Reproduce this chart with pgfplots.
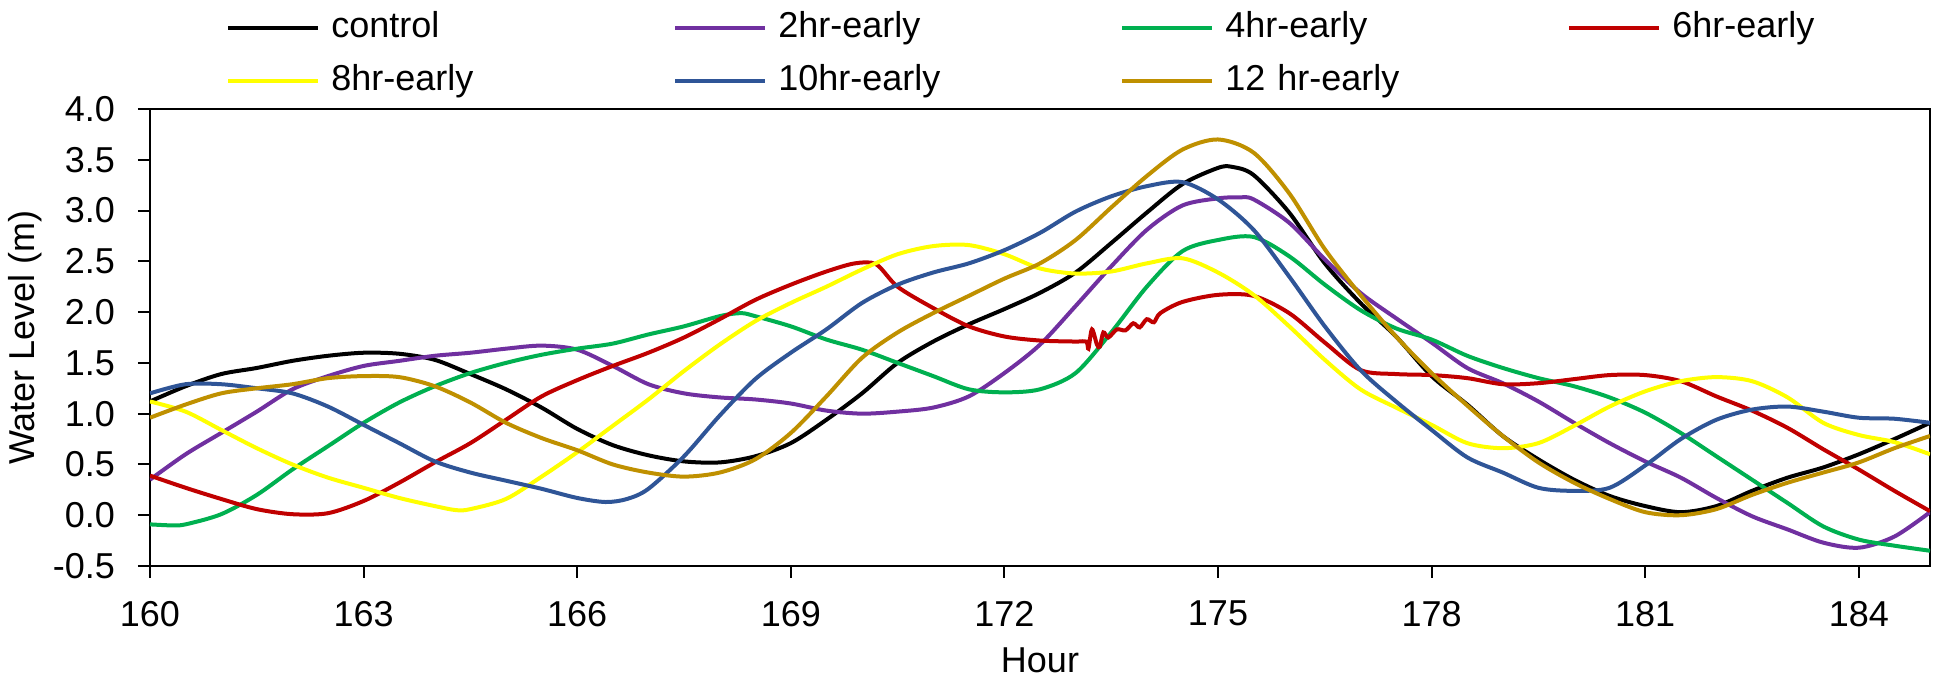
\documentclass[border=0pt]{standalone}
\usepackage{fontspec}
\setmainfont{Liberation Sans}
\usepackage{pgfplots}
\pgfplotsset{compat=1.18}
\definecolor{cPurple}{RGB}{112,48,160}
\definecolor{cGreen}{RGB}{0,176,80}
\definecolor{cRed}{RGB}{192,0,0}
\definecolor{cYellow}{RGB}{255,255,0}
\definecolor{cBlue}{RGB}{47,85,151}
\definecolor{cGold}{RGB}{191,144,0}
\newcommand{\fs}{\fontsize{18}{21}\selectfont}
\begin{document}
\begin{tikzpicture}
\begin{axis}[name=ax,
  scale only axis, width=890pt, height=228.5pt,
  xmin=160, xmax=185, ymin=-0.5, ymax=4,
  xtick={160,163,...,184}, ytick={-0.5,0,0.5,1,1.5,2,2.5,3,3.5,4},
  tick pos=left, tick align=outside, major tick length=6pt,
  axis line style={line width=1pt}, every tick/.style={black, line width=1pt},
  /pgf/number format/assume math mode=true,
  tick label style={font=\fs},
  xticklabel style={yshift=-8pt},
  yticklabel style={xshift=-8pt, /pgf/number format/.cd, fixed, fixed zerofill, precision=1},
  label style={font=\fs},
  xlabel={Hour}, ylabel={Water Level (m)},
  xlabel style={at={(axis description cs:0.5,-0.2057)}, anchor=center},
  ylabel style={at={(axis description cs:-0.0702,0.5)}, anchor=center},
  legend columns=4,
  legend style={at={(axis description cs:0.0427,1.2144)}, anchor=north west,
    draw=none, fill=none, inner sep=0pt, column sep=0pt, row sep=9.5pt, font=\fs,
    nodes={text width=165.5pt, inner xsep=5.5pt, inner ysep=0pt, text height=13pt, text depth=4pt, align=left}},
  legend image code/.code={\draw[#1] (0pt,0pt) -- (45pt,0pt);},
  every axis plot/.append style={line width=2pt, smooth, tension=0.5, mark=none},
]
\addplot[black] coordinates {
(160,1.12)(160.5,1.27)(161,1.39)(161.5,1.45)(162,1.52)(162.5,1.57)(163,1.60)(163.5,1.59)(164,1.53)(164.5,1.39)(165,1.24)(165.5,1.06)(166,0.85)(166.5,0.69)(167,0.59)(167.5,0.53)(168,0.52)(168.5,0.58)(169,0.71)(169.5,0.94)(170,1.20)(170.5,1.50)(171,1.71)(171.5,1.88)(172,2.03)(172.5,2.19)(173,2.39)(173.5,2.68)(174,2.98)(174.5,3.26)(175,3.42)(175.2,3.43)(175.5,3.35)(176,2.98)(176.5,2.48)(177,2.09)(177.5,1.76)(178,1.37)(178.5,1.09)(179,0.78)(179.5,0.55)(180,0.35)(180.5,0.19)(181,0.09)(181.5,0.03)(182,0.09)(182.5,0.24)(183,0.37)(183.5,0.47)(184,0.60)(184.5,0.75)(185,0.91)};
\addlegendentry{control}
\addplot[cPurple] coordinates {
(160,0.35)(160.5,0.60)(161,0.81)(161.5,1.02)(162,1.24)(162.5,1.37)(163,1.47)(163.5,1.52)(164,1.57)(164.5,1.60)(165,1.64)(165.5,1.67)(166,1.63)(166.5,1.47)(167,1.29)(167.5,1.20)(168,1.16)(168.5,1.14)(169,1.10)(169.5,1.03)(170,1.00)(170.5,1.02)(171,1.06)(171.5,1.17)(172,1.40)(172.5,1.68)(173,2.06)(173.5,2.45)(174,2.81)(174.5,3.05)(175,3.12)(175.3,3.13)(175.5,3.11)(176,2.88)(176.5,2.52)(177,2.19)(177.5,1.94)(178,1.70)(178.5,1.45)(179,1.30)(179.5,1.12)(180,0.91)(180.5,0.71)(181,0.53)(181.5,0.37)(182,0.17)(182.5,-0.01)(183,-0.14)(183.5,-0.27)(184,-0.32)(184.5,-0.21)(185,0.03)};
\addlegendentry{2hr-early}
\addplot[cGreen] coordinates {
(160,-0.09)(160.3,-0.10)(160.5,-0.09)(161,0.01)(161.5,0.20)(162,0.45)(162.5,0.68)(163,0.91)(163.5,1.11)(164,1.27)(164.5,1.40)(165,1.50)(165.5,1.58)(166,1.64)(166.5,1.69)(167,1.78)(167.5,1.86)(168,1.96)(168.3,1.99)(168.5,1.96)(169,1.86)(169.5,1.73)(170,1.63)(170.5,1.50)(171,1.37)(171.5,1.24)(172,1.21)(172.5,1.24)(173,1.40)(173.5,1.80)(174,2.25)(174.5,2.60)(175,2.71)(175.5,2.74)(176,2.55)(176.5,2.27)(177,2.02)(177.5,1.84)(178,1.73)(178.5,1.57)(179,1.45)(179.5,1.35)(180,1.27)(180.5,1.16)(181,1.01)(181.5,0.81)(182,0.58)(182.5,0.35)(183,0.12)(183.5,-0.11)(184,-0.24)(184.5,-0.30)(185,-0.35)};
\addlegendentry{4hr-early}
\addplot[cRed] coordinates {
(160,0.39)(160.5,0.27)(161,0.16)(161.5,0.06)(162,0.01)(162.5,0.02)(163,0.14)(163.5,0.32)(164,0.52)(164.5,0.71)(165,0.94)(165.5,1.17)(166,1.33)(166.5,1.47)(167,1.60)(167.5,1.75)(168,1.93)(168.5,2.12)(169,2.27)(169.5,2.40)(169.9,2.48)(170.2,2.47)(170.5,2.25)(171,2.04)(171.5,1.86)(172,1.76)(172.5,1.72)(173,1.71)(173.15,1.71)(173.18,1.64)(173.23,1.83)(173.3,1.68)(173.34,1.66)(173.39,1.80)(173.46,1.75)(173.58,1.83)(173.7,1.82)(173.81,1.89)(173.9,1.85)(174,1.93)(174.1,1.90)(174.19,1.99)(174.5,2.10)(175,2.17)(175.5,2.16)(176,1.99)(176.5,1.70)(177,1.43)(177.5,1.39)(178,1.38)(178.5,1.35)(179,1.29)(179.5,1.30)(180,1.34)(180.5,1.38)(181,1.38)(181.5,1.32)(182,1.17)(182.5,1.03)(183,0.86)(183.5,0.65)(184,0.45)(184.5,0.24)(185,0.04)};
\addlegendentry{6hr-early}
\addplot[cYellow] coordinates {
(160,1.12)(160.5,1.02)(161,0.84)(161.5,0.66)(162,0.50)(162.5,0.37)(163,0.27)(163.5,0.17)(164,0.09)(164.3,0.05)(164.5,0.06)(165,0.16)(165.5,0.38)(166,0.62)(166.5,0.88)(167,1.14)(167.5,1.42)(168,1.68)(168.5,1.91)(169,2.09)(169.5,2.25)(170,2.42)(170.5,2.57)(171,2.65)(171.5,2.66)(172,2.57)(172.5,2.43)(173,2.38)(173.5,2.40)(174,2.48)(174.5,2.53)(175,2.39)(175.5,2.17)(176,1.86)(176.5,1.53)(177,1.24)(177.5,1.06)(178,0.89)(178.5,0.71)(179,0.66)(179.5,0.71)(180,0.88)(180.5,1.07)(181,1.22)(181.5,1.32)(182,1.36)(182.5,1.32)(183,1.16)(183.5,0.91)(184,0.79)(184.5,0.72)(185,0.60)};
\addlegendentry{8hr-early}
\addplot[cBlue] coordinates {
(160,1.20)(160.5,1.29)(161,1.29)(161.5,1.25)(162,1.20)(162.5,1.07)(163,0.89)(163.5,0.71)(164,0.53)(164.5,0.42)(165,0.34)(165.5,0.26)(166,0.17)(166.4,0.13)(166.7,0.16)(167,0.26)(167.5,0.58)(168,0.98)(168.5,1.34)(169,1.60)(169.5,1.83)(170,2.09)(170.5,2.27)(171,2.39)(171.5,2.48)(172,2.61)(172.5,2.78)(173,2.99)(173.5,3.14)(174,3.24)(174.5,3.28)(175,3.11)(175.5,2.81)(176,2.35)(176.5,1.86)(177,1.43)(177.5,1.12)(178,0.84)(178.5,0.57)(179,0.42)(179.5,0.27)(180,0.24)(180.5,0.27)(181,0.49)(181.5,0.75)(182,0.94)(182.5,1.04)(183,1.07)(183.5,1.02)(184,0.96)(184.5,0.95)(185,0.91)};
\addlegendentry{10hr-early}
\addplot[cGold] coordinates {
(160,0.96)(160.5,1.09)(161,1.20)(161.5,1.25)(162,1.29)(162.5,1.35)(163,1.37)(163.5,1.36)(164,1.27)(164.5,1.11)(165,0.91)(165.5,0.76)(166,0.64)(166.5,0.50)(167,0.42)(167.5,0.38)(168,0.42)(168.5,0.55)(169,0.81)(169.5,1.17)(170,1.55)(170.5,1.80)(171,1.99)(171.5,2.16)(172,2.33)(172.5,2.48)(173,2.71)(173.5,3.03)(174,3.34)(174.5,3.60)(175,3.70)(175.5,3.57)(176,3.17)(176.5,2.62)(177,2.17)(177.5,1.76)(178,1.40)(178.5,1.08)(179,0.78)(179.5,0.52)(180,0.32)(180.5,0.16)(181,0.03)(181.5,0.00)(182,0.06)(182.5,0.20)(183,0.32)(183.5,0.42)(184,0.52)(184.5,0.66)(185,0.78)};
\addlegendentry{12 hr-early}
\end{axis}
\pgfresetboundingbox
\path (ax.south west) ++(-75pt,-57pt) rectangle ++(975pt,340pt);
\end{tikzpicture}
\end{document}
